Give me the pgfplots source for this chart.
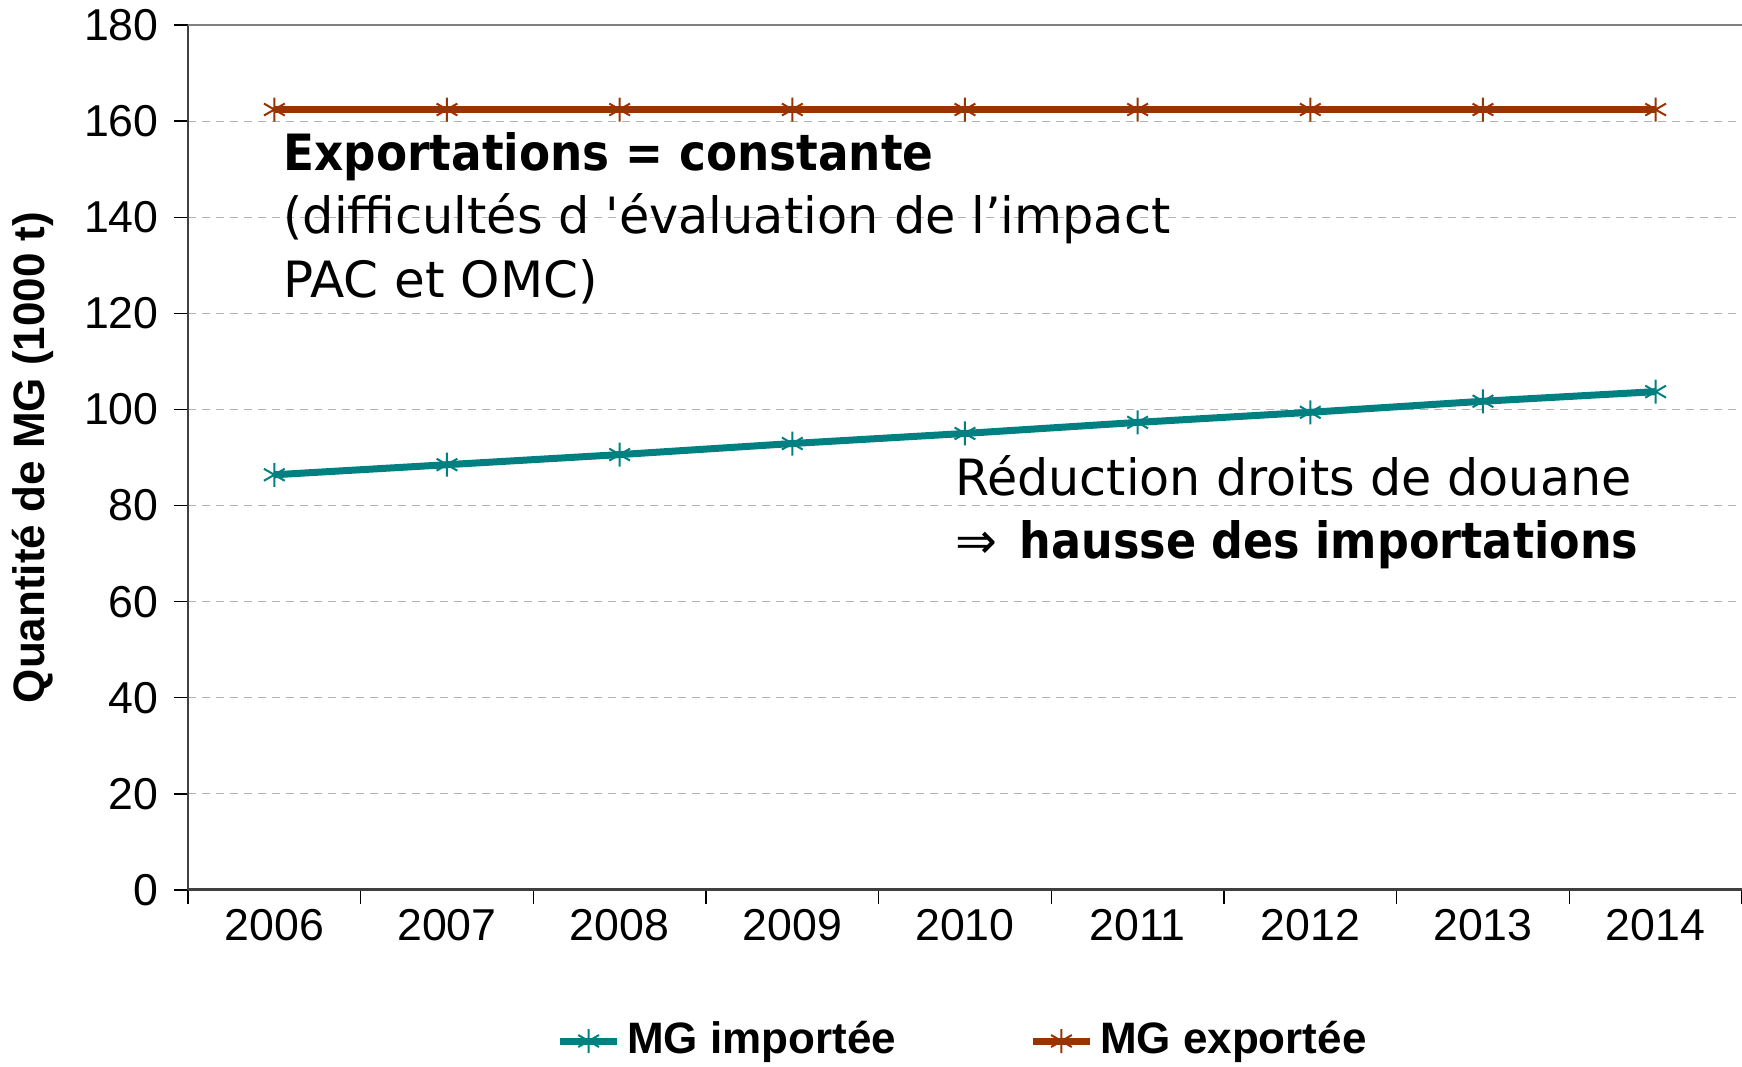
\documentclass[border=0pt]{standalone}
\usepackage{fontspec}
\setmainfont{Liberation Sans}
\newfontfamily\annot{DejaVu Sans}
\usepackage{graphicx}
\usepackage{pgfplots}
\pgfplotsset{compat=1.18}
\definecolor{tealA}{RGB}{0,128,128}
\definecolor{rust}{RGB}{153,51,0}
\definecolor{gridgray}{RGB}{178,178,178}
\definecolor{axisgray}{RGB}{64,64,64}
\begin{document}
\fontsize{13.2}{15.8}\selectfont
\begin{tikzpicture}
\begin{axis}[
  at={(0,0)}, anchor=south west,
  width=466.2pt, height=259.5pt, scale only axis,
  xmin=-0.5, xmax=8.5, ymin=0, ymax=180,
  xtick={-0.5,0.5,1.5,2.5,3.5,4.5,5.5,6.5,7.5,8.5},
  x tick label as interval,
  xticklabels={2006,2007,2008,2009,2010,2011,2012,2013,2014},
  ytick={0,20,...,180},
  axis x line*=bottom, axis y line*=left,
  x axis line style={axisgray, line width=0.9pt},
  y axis line style={axisgray, line width=0.4pt},
  tick align=outside, major tick length=4.2pt,
  tick style={black, line width=0.4pt},
  ymajorgrids, grid style={gridgray, line width=0.35pt, dash pattern=on 2.4pt off 1.8pt},
  /pgf/number format/assume math mode=true,
  ticklabel style={font=\fontsize{13.4}{16}\selectfont},
  xticklabel style={yshift=3pt},
  ylabel={\bfseries Quantité de MG (1000 t)},
  ylabel style={at={(axis description cs:-0.0997,0.5)}, anchor=center, font=\fontsize{13.2}{15.8}\selectfont},
  legend style={at={(0.5,-0.1746)}, anchor=center, draw=none, legend columns=2,
    font=\fontsize{13.2}{15.8}\selectfont\bfseries,
    /tikz/every even column/.append style={column sep=38pt}},
  clip=false,
]
\addplot[color=tealA, line width=2.1pt, mark=asterisk, mark size=3.6pt, mark options={line width=0.6pt}]
  coordinates {(0,86.4) (1,88.5) (2,90.6) (3,92.9) (4,95.0) (5,97.3) (6,99.4) (7,101.7) (8,103.7)};
\addlegendentry{MG importée}
\addplot[color=rust, line width=2.1pt, mark=asterisk, mark size=3.6pt, mark options={line width=0.6pt}]
  coordinates {(0,162.4) (1,162.4) (2,162.4) (3,162.4) (4,162.4) (5,162.4) (6,162.4) (7,162.4) (8,162.4)};
\addlegendentry{MG exportée}
\draw[gray, line width=0.75pt] (rel axis cs:0,1) -- (rel axis cs:1,1);
\node[anchor=base west, inner sep=0pt, font=\annot\fontsize{15}{18}\selectfont\bfseries] at (axis cs:0.05,149.7) {\scalebox{0.907}[1]{Exportations = constante}};
\node[anchor=base west, inner sep=0pt, font=\annot\fontsize{15}{18}\selectfont] at (axis cs:0.05,136.6) {\scalebox{0.986}[1]{(difficultés d 'évaluation de l’impact}};
\node[anchor=base west, inner sep=0pt, font=\annot\fontsize{15}{18}\selectfont] at (axis cs:0.05,123.2) {PAC et OMC)};
\node[anchor=base west, inner sep=0pt, font=\annot\fontsize{15}{18}\selectfont] at (axis cs:3.94,82.0) {\scalebox{0.982}[1]{Réduction droits de douane}};
\node[anchor=base west, inner sep=0pt, font=\annot\fontsize{15}{18}\selectfont] at (axis cs:3.94,68.9) {⇒\hspace{0.45em}\scalebox{0.89}[1]{\bfseries hausse des importations}};
\end{axis}
\pgfresetboundingbox
\path[use as bounding box] (-56.4pt,-53.1pt) rectangle (466.2pt,267pt);
\end{tikzpicture}
\end{document}
